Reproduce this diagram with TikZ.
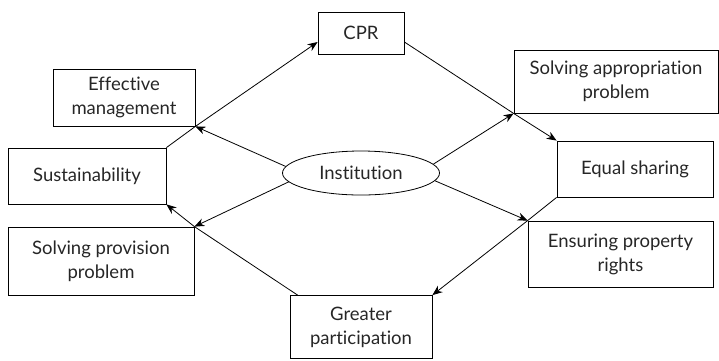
\documentclass[tikz,border=0pt]{standalone}
\usepackage{fontspec}
\setmainfont{Lato}[Ligatures=NoCommon]
\usetikzlibrary{arrows.meta,shapes.geometric}
\tikzset{
  box/.style={draw, rectangle, align=center, inner sep=2pt, line width=0.8pt,
    text=black!85, font=\fontsize{18.5}{24}\selectfont},
  arr/.style={-{Stealth[length=10pt,width=8pt]}, line width=0.8pt},
}
\begin{document}
\begin{tikzpicture}[x=1pt,y=-1pt]
  \useasboundingbox (0,0) rectangle (719,360);
  % boxes round the loop
  \node[box, minimum width=86pt, minimum height=42pt] (cpr) at (361,33) {CPR};
  \node[box, minimum width=142pt, minimum height=57pt] (eff) at (124,97.5) {Effective\\management};
  \node[box, minimum width=158pt, minimum height=56pt] (sus) at (87,176) {Sustainability};
  \node[box, minimum width=186pt, minimum height=68pt] (spp) at (101,261) {Solving provision\\problem};
  \node[box, minimum width=142pt, minimum height=63pt] (gp) at (361,327) {Greater\\participation};
  \node[box, minimum width=204pt, minimum height=63pt] (sap) at (616,81.5) {Solving appropriation\\problem};
  \node[box, minimum width=156pt, minimum height=56pt] (es) at (635,169) {Equal sharing};
  \node[box, minimum width=185pt, minimum height=66pt] (epr) at (620.5,254) {Ensuring property\\rights};
  % centre
  \node[box, ellipse, inner sep=0pt, minimum width=157pt, minimum height=44pt] (inst) at (361,173) {Institution};
  \begin{scope}[arr]
    \draw (sus.north east) -- (eff.south east) -- ([yshift=-9pt]cpr.west);
    \draw ([yshift=-9pt]cpr.east) -- (sap.south west) -- (es.north west);
    \draw (es.south west) -- (epr.north west) -- (gp.north east);
    \draw ([xshift=8pt]gp.north west) -- (spp.north east) -- (sus.south east);
    \draw (inst.175) -- (eff.south east);
    \draw (inst.187) -- (spp.north east);
    \draw (inst.7) -- (sap.south west);
    \draw (inst.-6) -- (epr.north west);
  \end{scope}
\end{tikzpicture}
\end{document}
